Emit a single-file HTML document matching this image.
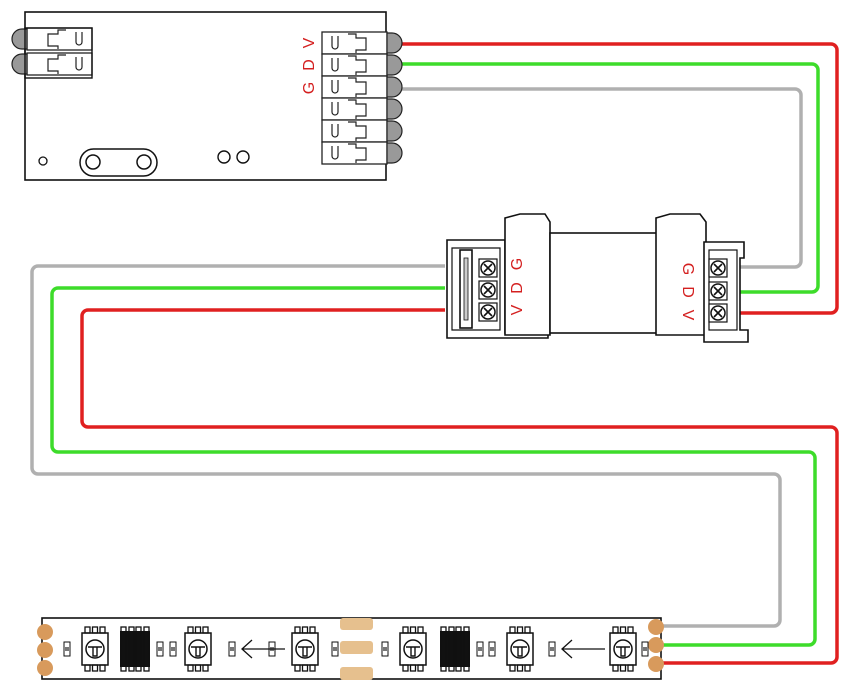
<!DOCTYPE html>
<html><head><meta charset="utf-8"><style>
html,body{margin:0;padding:0;background:#fff;}
svg{display:block;}
text{font-family:"Liberation Sans",sans-serif;fill:#d42020;font-size:16px;}
</style></head><body>
<svg width="858" height="692" viewBox="0 0 858 692" xmlns="http://www.w3.org/2000/svg">
<defs>
<g id="slot">
  <rect x="0" y="0" width="65" height="22" fill="#fff" stroke="#222" stroke-width="1.3"/>
  <path d="M10 4 v10 a3 3 0 0 0 6 0 v-10" fill="none" stroke="#222" stroke-width="1.2"/>
  <path d="M26 2 h8 v4 h10 v12 h-10 v3" fill="none" stroke="#222" stroke-width="1.2"/>
  <path d="M65 1 h5 a8 8 0 0 1 0 20 h-5 z" fill="#999" stroke="#222" stroke-width="1.2"/>
</g>
<g id="led">
  <rect x="-13" y="-16" width="26" height="32" fill="#fff" stroke="#111" stroke-width="1.5"/>
  <rect x="-10" y="-22" width="5" height="6" fill="none" stroke="#111" stroke-width="1.3"/>
  <rect x="-2.5" y="-22" width="5" height="6" fill="none" stroke="#111" stroke-width="1.3"/>
  <rect x="5" y="-22" width="5" height="6" fill="none" stroke="#111" stroke-width="1.3"/>
  <rect x="-10" y="16" width="5" height="6" fill="none" stroke="#111" stroke-width="1.3"/>
  <rect x="-2.5" y="16" width="5" height="6" fill="none" stroke="#111" stroke-width="1.3"/>
  <rect x="5" y="16" width="5" height="6" fill="none" stroke="#111" stroke-width="1.3"/>
  <circle cx="0" cy="0" r="9" fill="none" stroke="#111" stroke-width="1.5"/>
  <path d="M-7 -2 h14 M-2 -2 v9 h4 v-9" fill="none" stroke="#111" stroke-width="1.4"/>
</g>
<g id="res">
  <rect x="-3" y="-7" width="6" height="14" fill="#fff" stroke="#111" stroke-width="1"/>
  <rect x="-2" y="-2" width="4" height="4" fill="#777"/>
</g>
<g id="ic">
  <rect x="0" y="-18" width="30" height="36" fill="#111"/>
  <rect x="1" y="-22" width="5" height="44" fill="none" stroke="#111" stroke-width="1.3"/>
  <rect x="9" y="-22" width="5" height="44" fill="none" stroke="#111" stroke-width="1.3"/>
  <rect x="16" y="-22" width="5" height="44" fill="none" stroke="#111" stroke-width="1.3"/>
  <rect x="24" y="-22" width="5" height="44" fill="none" stroke="#111" stroke-width="1.3"/>
</g>
<g id="screw">
  <rect x="-9" y="-9" width="18" height="18" fill="#fff" stroke="#111" stroke-width="1.2"/>
  <circle r="7" fill="#fff" stroke="#111" stroke-width="1.5"/>
  <path d="M-4 -4 L4 4 M-4 4 L4 -4" stroke="#111" stroke-width="1.6"/>
</g>
</defs>

<g fill="none" stroke-width="3.5" stroke-linejoin="round">
<path d="M396 44 H831 a6 6 0 0 1 6 6 V307 a6 6 0 0 1 -6 6 H728" stroke="#e02020"/>
<path d="M396 64 H812 a6 6 0 0 1 6 6 V286 a6 6 0 0 1 -6 6 H728" stroke="#3ddc2a"/>
<path d="M396 89 H795 a6 6 0 0 1 6 6 V261 a6 6 0 0 1 -6 6 H728" stroke="#b0b0b0"/>
<path d="M445 310 H88 a6 6 0 0 0 -6 6 V421 a6 6 0 0 0 6 6 H831 a6 6 0 0 1 6 6 V657 a6 6 0 0 1 -6 6 H660" stroke="#e02020"/>
<path d="M445 288 H58 a6 6 0 0 0 -6 6 V446 a6 6 0 0 0 6 6 H809 a6 6 0 0 1 6 6 V639 a6 6 0 0 1 -6 6 H660" stroke="#3ddc2a"/>
<path d="M445 266 H38 a6 6 0 0 0 -6 6 V468 a6 6 0 0 0 6 6 H774 a6 6 0 0 1 6 6 V620 a6 6 0 0 1 -6 6 H660" stroke="#b0b0b0"/>
</g>

<rect x="25" y="12" width="361" height="168" fill="#fff" stroke="#111" stroke-width="1.6"/>
<g transform="translate(92,28) scale(-1,1)"><use href="#slot"/></g>
<g transform="translate(92,53) scale(-1,1)"><use href="#slot"/></g>
<rect x="25" y="28" width="67" height="50" fill="none" stroke="#111" stroke-width="1.4"/>
<use href="#slot" x="322" y="32"/>
<use href="#slot" x="322" y="54"/>
<use href="#slot" x="322" y="76"/>
<use href="#slot" x="322" y="98"/>
<use href="#slot" x="322" y="120"/>
<use href="#slot" x="322" y="142"/>
<text transform="translate(309,43) rotate(-90)" text-anchor="middle" dy="5">V</text>
<text transform="translate(309,65) rotate(-90)" text-anchor="middle" dy="5">D</text>
<text transform="translate(309,88) rotate(-90)" text-anchor="middle" dy="5">G</text>
<circle cx="43" cy="161" r="4" fill="none" stroke="#111" stroke-width="1.3"/>
<rect x="80" y="149" width="77" height="27" rx="13.5" fill="none" stroke="#111" stroke-width="1.5"/>
<circle cx="93" cy="162" r="7" fill="none" stroke="#111" stroke-width="1.5"/>
<circle cx="144" cy="162" r="7" fill="none" stroke="#111" stroke-width="1.5"/>
<circle cx="224" cy="157" r="6" fill="none" stroke="#111" stroke-width="1.4"/>
<circle cx="243" cy="157" r="6" fill="none" stroke="#111" stroke-width="1.4"/>

<g stroke="#111" stroke-width="1.6" fill="#fff">
<path d="M447 240 H505 V333 H548 V338 H447 Z"/>
<path d="M452 248 H500 V330 H452 Z" fill="none" stroke-width="1.2"/>
<rect x="460" y="250" width="12" height="78" fill="#fff"/>
<rect x="464" y="258" width="4" height="62" fill="#ccc" stroke-width="0.8"/>
<path d="M505 218 L520 214 H545 L550 222 V335 H505 Z"/>
<rect x="550" y="233" width="108" height="100"/>
<path d="M656 218 L670 214 H700 L706 222 V335 H656 Z"/>
<path d="M704 242 H744 V258 H740 V330 H748 V342 H704 Z"/>
<rect x="709" y="250" width="28" height="80" fill="none" stroke-width="1.2"/>
</g>
<use href="#screw" x="488" y="268"/>
<use href="#screw" x="488" y="290"/>
<use href="#screw" x="488" y="312"/>
<use href="#screw" x="718" y="268"/>
<use href="#screw" x="718" y="291"/>
<use href="#screw" x="718" y="313"/>
<text transform="translate(517,310) rotate(-90)" text-anchor="middle" dy="5">V</text>
<text transform="translate(517,288) rotate(-90)" text-anchor="middle" dy="5">D</text>
<text transform="translate(517,264) rotate(-90)" text-anchor="middle" dy="5">G</text>
<text transform="translate(688,269) rotate(90)" text-anchor="middle" dy="5">G</text>
<text transform="translate(688,292) rotate(90)" text-anchor="middle" dy="5">D</text>
<text transform="translate(688,315) rotate(90)" text-anchor="middle" dy="5">V</text>

<rect x="42" y="618" width="619" height="61" fill="#fff" stroke="#111" stroke-width="1.6"/>
<g fill="#d89a5c">
<circle cx="45" cy="632" r="8"/><circle cx="45" cy="650" r="8"/><circle cx="45" cy="668" r="8"/>
<circle cx="656" cy="627" r="8"/><circle cx="656" cy="645" r="8"/><circle cx="656" cy="664" r="8"/>
<rect x="340" y="618" width="33" height="12" rx="3" fill="#e6c08e"/>
<rect x="340" y="641" width="33" height="13" rx="3" fill="#e6c08e"/>
<rect x="340" y="667" width="33" height="13" rx="3" fill="#e6c08e"/>
</g>
<use href="#led" x="95" y="649"/>
<use href="#led" x="198" y="649"/>
<use href="#led" x="305" y="649"/>
<use href="#led" x="413" y="649"/>
<use href="#led" x="520" y="649"/>
<use href="#led" x="623" y="649"/>
<use href="#ic" x="120" y="649"/>
<use href="#ic" x="440" y="649"/>
<use href="#res" x="67" y="649"/>
<use href="#res" x="160" y="649"/>
<use href="#res" x="173" y="649"/>
<use href="#res" x="232" y="649"/>
<use href="#res" x="272" y="649"/>
<use href="#res" x="335" y="649"/>
<use href="#res" x="385" y="649"/>
<use href="#res" x="480" y="649"/>
<use href="#res" x="492" y="649"/>
<use href="#res" x="552" y="649"/>
<use href="#res" x="645" y="649"/>
<g fill="none" stroke="#111" stroke-width="1.3">
<path d="M285 649 H242 M252 640 L242 649 L252 658"/>
<path d="M605 649 H562 M572 640 L562 649 L572 658"/>
</g>
</svg>
</body></html>
